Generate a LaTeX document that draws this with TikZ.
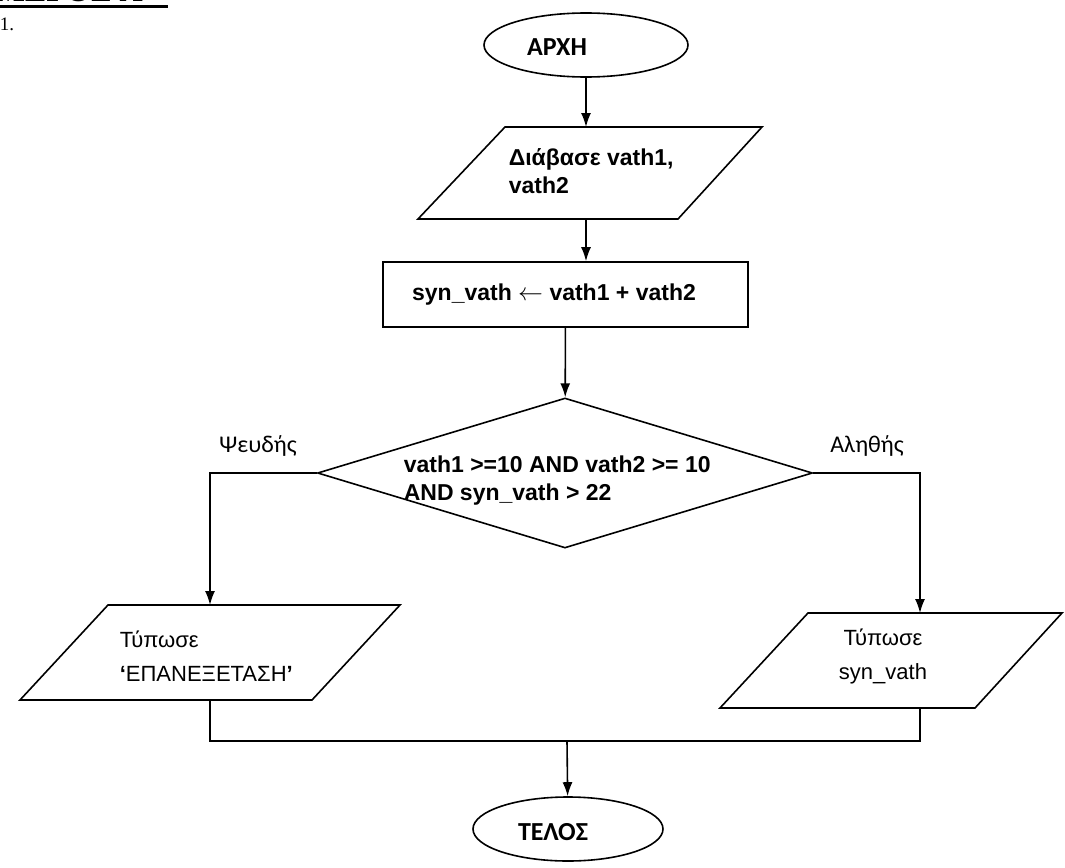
\documentclass[tikz,border=0pt]{standalone}
\usepackage{fontspec}
\setmainfont{Liberation Sans}
\newfontfamily\calfont{Carlito}
\newfontfamily\romfont{Liberation Serif}
\usetikzlibrary{shapes.geometric,arrows.meta,positioning}

\begin{document}
\begin{tikzpicture}[x=1pt,y=-1pt,line width=1.6pt,>={Latex[length=14pt,width=10pt]},
  terminal/.style={draw, ellipse, inner sep=0pt},
  process/.style={draw, rectangle, inner sep=0pt},
  decision/.style={draw, diamond, inner sep=0pt},
  boldtxt/.style={font=\fontsize{23}{28}\selectfont\bfseries, align=left, inner sep=0pt},
  plaintxt/.style={font=\fontsize{22}{34}\selectfont, align=left, inner sep=0pt},
  termtxt/.style={font=\calfont\fontsize{26}{30}\selectfont\bfseries, inner sep=0pt},
  branchtxt/.style={font=\calfont\fontsize{24}{28}\selectfont, inner sep=0pt}]

\useasboundingbox (0,0) rectangle (1065,867);

% heading, cut by the top of the page
\node[font=\romfont\fontsize{32}{36}\selectfont\bfseries, anchor=base west, inner sep=0pt] (title) at (-6,2) {ΜΕΡΟΣ Α};
\draw[line width=3.5pt] (0,6.5) -- (168,6.5);
\node[font=\romfont\fontsize{19}{22}\selectfont, anchor=base west, inner sep=0pt] (num) at (-1,31) {1.};

% start
\node[terminal, minimum width=204pt, minimum height=64pt] (start) at (586,45) {};
\node[termtxt] (starttxt) at (557,47) {ΑΡΧΗ};

% input (parallelogram)
\draw (418,219) -- (678,219) -- (762,127) -- (505,127) -- cycle;
\coordinate (readn) at (0,127);
\coordinate (reads) at (0,219);
\node[boldtxt, anchor=north west] (readtxt) at (508,148) {Διάβασε vath1,\\vath2};

% assignment
\node[process, minimum width=365pt, minimum height=65pt] (sum) at (565.5,294.5) {};
\node[boldtxt] (sumtxt) at (554,295) {syn\_vath {\mdseries$\leftarrow$} vath1 + vath2};

% condition
\node[decision, minimum width=495pt, minimum height=150pt] (cond) at (565,473) {};
\node[boldtxt, anchor=north west] (condtxt) at (403,455) {vath1 >=10 AND vath2 >= 10\\AND syn\_vath > 22};

% output when false
\draw (20,700) -- (312,700) -- (400,605) -- (108,605) -- cycle;
\coordinate (failn) at (0,605);
\coordinate (fails) at (0,700);
\node[plaintxt, anchor=north west] (failtxt) at (119,630) {Τύπωσε\\{\bfseries ‘}ΕΠΑΝΕΞΕΤΑΣΗ{\bfseries ’}};

% output when true
\draw (720,708) -- (975,708) -- (1062,613) -- (808,613) -- cycle;
\coordinate (passn) at (0,613);
\coordinate (passs) at (0,708);
\node[plaintxt, align=center, anchor=north] (passtxt) at (883,628) {Τύπωσε\\syn\_vath};

% end
\node[terminal, minimum width=190pt, minimum height=64pt] (end) at (568,829) {};
\node[termtxt] (endtxt) at (553,832) {ΤΕΛΟΣ};

% branch labels
\node[branchtxt] (no) at (258,446) {Ψευδής};
\node[branchtxt] (yes) at (867,446) {Αληθής};

% connectors
\coordinate (lturn) at (210,473);
\coordinate (rturn) at (920,473);
\coordinate (merge) at (567,741);

\draw[->] (start) -- (start |- readn);
\draw[->] (start.south |- reads) -- (start.south |- sum.north);
\draw[->] (sum) -- (cond);
\draw[->] (cond.west) -- (lturn) -- (lturn |- failn);
\draw[->] (cond.east) -- (rturn) -- (rturn |- passn);
\draw (lturn |- fails) -- (lturn |- merge) -- (rturn |- merge) -- (rturn |- passs);
\draw[->] (merge) -- (end);

\end{tikzpicture}
\end{document}
